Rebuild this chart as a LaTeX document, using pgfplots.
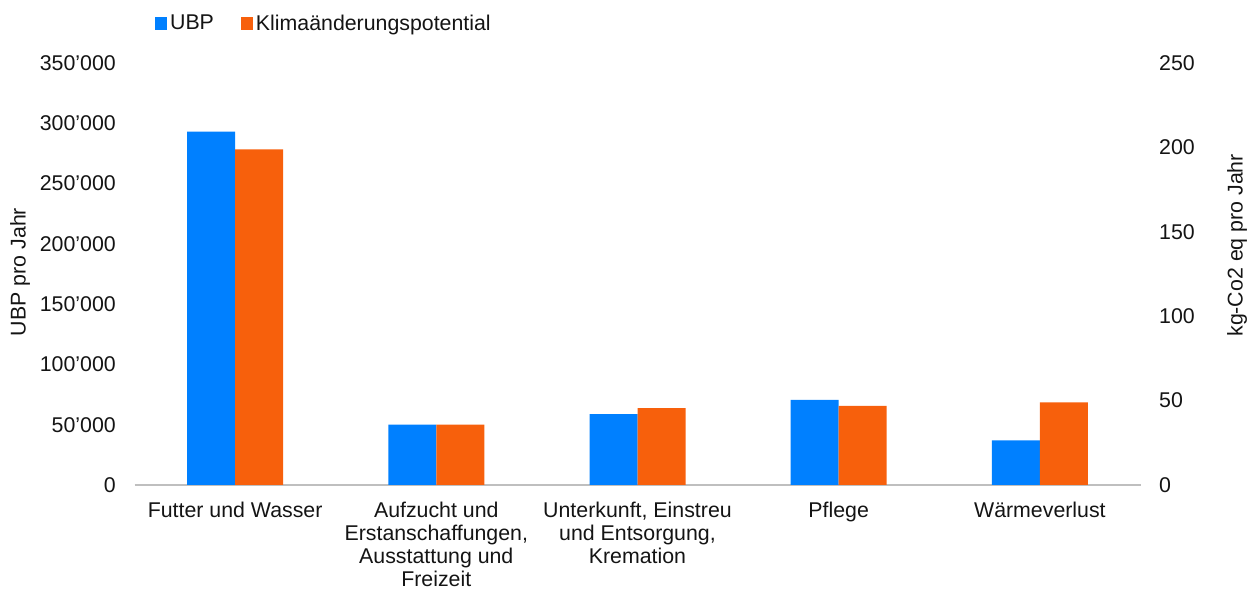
\documentclass[border=0pt]{standalone}
\usepackage{pgfplots}
\pgfplotsset{compat=1.18}
\usepackage{fontspec}
\setmainfont{Liberation Sans}
\definecolor{ubp}{RGB}{0,128,255}
\definecolor{klima}{RGB}{247,96,12}
\definecolor{txt}{RGB}{20,20,20}
\pgfplotstableread{
x ubp klima
0 293000 198.9
1 50000 35.8
2 58700 45.6
3 70500 46.8
4 37100 49.0
}\data
\begin{document}
\begin{tikzpicture}[font=\fontsize{16pt}{17.25pt}\selectfont, text=txt]
\useasboundingbox (0,0) rectangle (935.25pt,444pt);
\begin{axis}[
  at={(100.875pt,80.25pt)}, anchor=south west,
  width=754.5pt, height=316.5pt, scale only axis,
  xmin=-0.5, xmax=4.5, ymin=0, ymax=350000,
  ytick={0,50000,...,350000},
  scaled y ticks=false,
  /pgf/number format/.cd, fixed, 1000 sep={'}, assume math mode=true, /pgfplots/.cd,
  axis x line*=bottom, axis y line*=left,
  y axis line style={draw=none},
  x axis line style={draw=black!25, line width=0.8pt},
  major tick length=0pt,
  xtick=data,
  xticklabels={Futter und Wasser,
    {Aufzucht und\\Erstanschaffungen,\\Ausstattung und\\Freizeit},
    {Unterkunft, Einstreu\\und Entsorgung,\\Kremation},
    Pflege, Wärmeverlust},
  xticklabel style={align=center, yshift=-9pt, text=txt},
  yticklabel style={xshift=-10.5pt, text=txt},
  ybar, bar width=36pt,
  legend style={at={(0,1)}, anchor=west, xshift=12pt, yshift=29.5pt, draw=none,
    legend columns=-1, font=\fontsize{16pt}{18pt}\selectfont, text=txt,
    /tikz/every even column/.append style={column sep=18pt}},
  legend image code/.code={\fill[#1] (0pt,-4.75pt) rectangle (9.5pt,4.75pt);},
]
\addplot[draw=none, fill=ubp, bar shift=-18pt] table[x=x,y=ubp]{\data};
\addlegendentry{UBP}
\addlegendimage{fill=klima, draw=none}
\addlegendentry{Klimaänderungspotential}
\end{axis}
\begin{axis}[
  at={(100.875pt,80.25pt)}, anchor=south west,
  width=754.5pt, height=316.5pt, scale only axis,
  xmin=-0.5, xmax=4.5, ymin=0, ymax=250,
  ytick={0,50,...,250},
  /pgf/number format/assume math mode=true,
  axis y line*=right, axis x line=none,
  y axis line style={draw=none},
  major tick length=0pt,
  xtick=\empty,
  yticklabel style={xshift=10.5pt, text=txt},
  ybar, bar width=36pt,
]
\addplot[draw=none, fill=klima, bar shift=18pt] table[x=x,y=klima]{\data};
\end{axis}
\node[rotate=90] at (15pt,240pt) {UBP pro Jahr};
\node[rotate=90] at (927.75pt,260pt) {kg-Co2 eq pro Jahr};
\end{tikzpicture}
\end{document}
